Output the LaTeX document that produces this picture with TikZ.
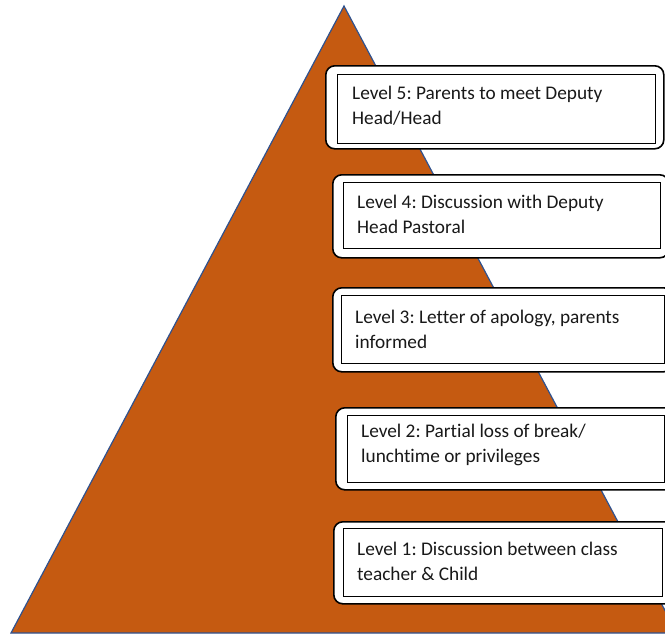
\documentclass[tikz,border=0pt]{standalone}
\usepackage{fontspec}
\setmainfont{Carlito}[RawFeature=-liga]
\frenchspacing
\definecolor{pyr}{RGB}{197,90,17}
\definecolor{pyredge}{RGB}{47,82,143}
\tikzset{
  outerbox/.style={draw=black, line width=1.6pt, fill=white, rounded corners=9pt, anchor=north west, inner sep=0pt},
  innerbox/.style={draw=black, line width=1.4pt, fill=white, anchor=north west, inner sep=0pt},
  lbl/.style={anchor=base west, inner sep=0pt, font=\fontsize{19.3}{25}\selectfont, text=black!90}
}
\newcommand{\lvl}[2]{\parbox[t]{310pt}{\raggedright #1\\#2}}
\begin{document}
\begin{tikzpicture}[x=1pt,y=-1pt]
\useasboundingbox (0,0) rectangle (665,635);
\clip (0,0) rectangle (665,635);
% pyramid
\coordinate (apex) at (344,6);
\coordinate (bl) at (11,633);
\coordinate (br) at (677,633);
\draw[fill=pyr, draw=pyredge, line width=1.2pt, line join=miter] (apex) -- (bl) -- (br) -- cycle;
% Level 5
\node[outerbox, minimum width=338pt, minimum height=83pt] (o5) at (325,65) {};
\node[innerbox, minimum width=318pt, minimum height=69pt] (i5) at (337,74) {};
\node[lbl] (t5) at (352,99) {\lvl{Level 5: Parents to meet Deputy}{Head/Head}};
% Level 4
\node[outerbox, minimum width=336pt, minimum height=83pt] (o4) at (332,174) {};
\node[innerbox, minimum width=317pt, minimum height=66pt] (i4) at (343,182) {};
\node[lbl] (t4) at (357,208) {\lvl{Level 4: Discussion with Deputy}{Head Pastoral}};
% Level 3
\node[outerbox, minimum width=340pt, minimum height=84pt] (o3) at (332,287) {};
\node[innerbox, minimum width=323pt, minimum height=68pt] (i3) at (341,295) {};
\node[lbl] (t3) at (355,323) {\lvl{Level 3: Letter of apology, parents}{informed}};
% Level 2
\node[outerbox, minimum width=340pt, minimum height=82pt] (o2) at (335,407) {};
\node[innerbox, minimum width=317pt, minimum height=67pt] (i2) at (347,415) {};
\node[lbl] (t2) at (361,437) {\lvl{Level 2: Partial loss of break/}{lunchtime or privileges}};
% Level 1
\node[outerbox, minimum width=340pt, minimum height=82pt] (o1) at (333,521) {};
\node[innerbox, minimum width=319pt, minimum height=68pt] (i1) at (343,528) {};
\node[lbl] (t1) at (357,555) {\lvl{Level 1: Discussion between class}{teacher \& Child}};
\end{tikzpicture}
\end{document}
